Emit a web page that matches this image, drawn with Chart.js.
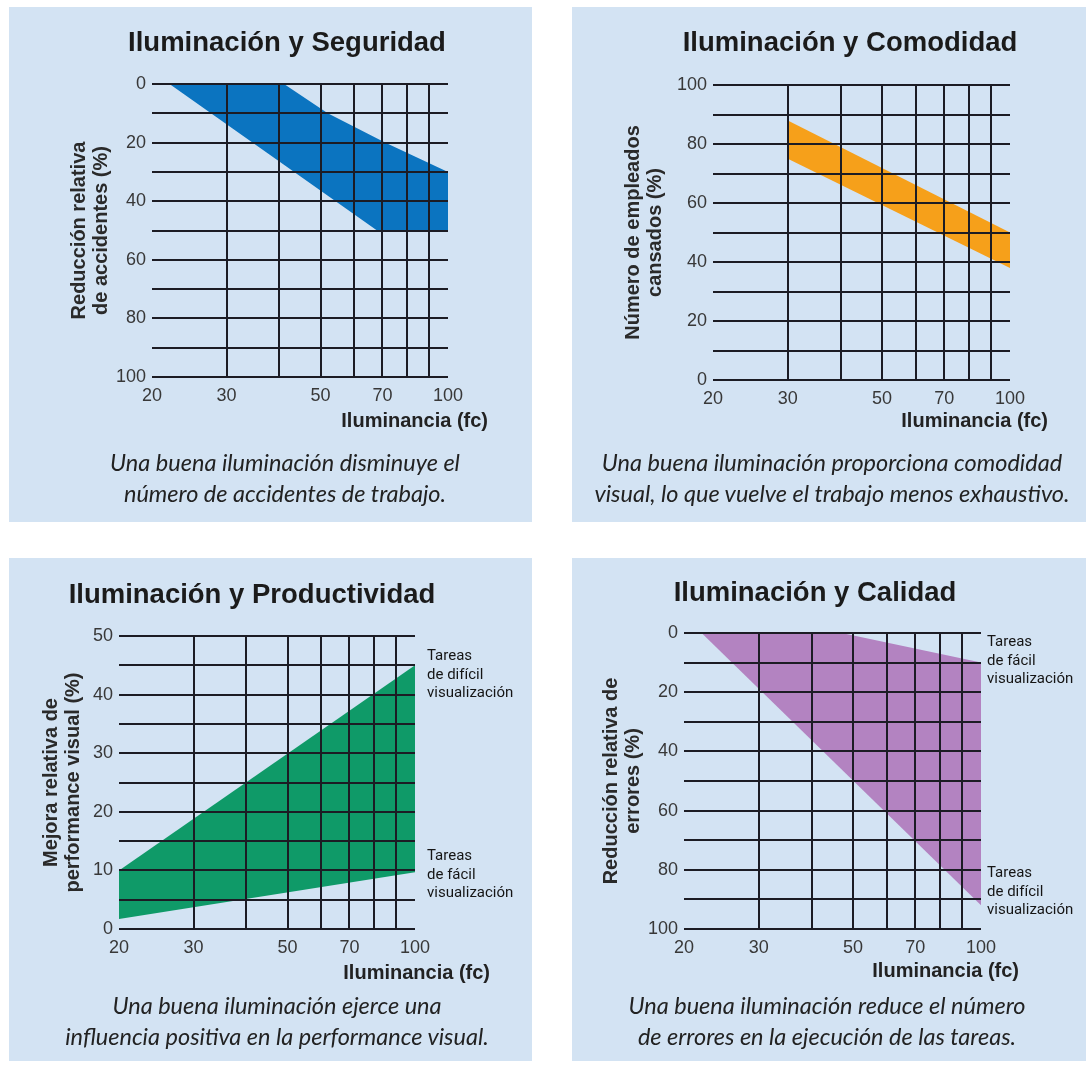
<!DOCTYPE html>
<html lang="es">
<head>
<meta charset="utf-8">
<title>Iluminación</title>
<script src="https://cdn.jsdelivr.net/npm/chart.js@4.4.1/dist/chart.umd.min.js"></script>
<style>
    body { margin: 0; background: #fff; width: 1089px; height: 1065px; position: relative; overflow: hidden; }
    .panel { position: absolute; background: #d3e3f3; }
    .panel canvas { position: absolute; left: 0; top: 0; }
    .ttl { position: absolute; width: 460px; text-align: center; font: bold 27.5px "Liberation Sans", Arial, sans-serif; color: #1b1b1b; line-height: 30px; white-space: nowrap; }
    .xt { position: absolute; font: bold 20px "Liberation Sans", Arial, sans-serif; color: #222; line-height: 22px; white-space: nowrap; }
    .cap { position: absolute; width: 520px; text-align: center; font: italic 23.5px Lato, "Open Sans", sans-serif; color: #222; line-height: 31px; white-space: nowrap; }
    .note { position: absolute; font: 15px Roboto, sans-serif; line-height: 18.5px; color: #151515; white-space: nowrap; }
</style>
</head>
<body>

<div class="panel" style="left:9px; top:7px; width:523px; height:515px;">
    <canvas id="chart-seguridad" width="523" height="515"></canvas>
    <div class="ttl" style="left:48px; top:20px;">Iluminación y Seguridad</div>
    <div class="xt" style="right:44px; top:402px;">Iluminancia (fc)</div>
    <div class="cap" style="left:16px; top:440px;">Una buena iluminación disminuye el<br>número de accidentes de trabajo.</div>
</div>

<div class="panel" style="left:572px; top:7px; width:514px; height:515px;">
    <canvas id="chart-comodidad" width="514" height="515"></canvas>
    <div class="ttl" style="left:48px; top:20px;">Iluminación y Comodidad</div>
    <div class="xt" style="right:38px; top:402px;">Iluminancia (fc)</div>
    <div class="cap" style="left:0px; top:440px;">Una buena iluminación proporciona comodidad<br>visual, lo que vuelve el trabajo menos exhaustivo.</div>
</div>

<div class="panel" style="left:9px; top:558px; width:523px; height:503px;">
    <canvas id="chart-productividad" width="523" height="503"></canvas>
    <div class="ttl" style="left:13px; top:21px;">Iluminación y Productividad</div>
    <div class="xt" style="right:42px; top:403px;">Iluminancia (fc)</div>
    <div class="cap" style="left:8px; top:432px;">Una buena iluminación ejerce una<br>influencia positiva en la performance visual.</div>
    <div class="note" style="left:418px; top:88px;">Tareas<br>de difícil<br>visualización</div>
    <div class="note" style="left:418px; top:288px;">Tareas<br>de fácil<br>visualización</div>
</div>

<div class="panel" style="left:572px; top:558px; width:514px; height:503px;">
    <canvas id="chart-calidad" width="514" height="503"></canvas>
    <div class="ttl" style="left:13px; top:19px;">Iluminación y Calidad</div>
    <div class="xt" style="right:67px; top:401px;">Iluminancia (fc)</div>
    <div class="cap" style="left:-5px; top:432px;">Una buena iluminación reduce el número<br>de errores en la ejecución de las tareas.</div>
    <div class="note" style="left:415px; top:74px;">Tareas<br>de fácil<br>visualización</div>
    <div class="note" style="left:415px; top:305px;">Tareas<br>de difícil<br>visualización</div>
</div>

<script>
// Shared axes: log illuminance (fc) and % scales
const xTicks = [20, 30, 40, 50, 60, 70, 80, 90, 100];
const xLabels = [20, 30, 50, 70, 100];
const yTicks100 = [0, 10, 20, 30, 40, 50, 60, 70, 80, 90, 100];
const yLabels100 = [0, 20, 40, 60, 80, 100];
const yTicks50 = [0, 5, 10, 15, 20, 25, 30, 35, 40, 45, 50];
const yLabels50 = [0, 10, 20, 30, 40, 50];

// Iluminación y Seguridad — edges of the blue band
const seguridadIzqX = [22, 68, 100];
const seguridadIzqY = [0, 50, 50];
const seguridadDerX = [22, 41, 52, 71, 100];
const seguridadDerY = [0, 0, 10, 20, 30];

// Iluminación y Comodidad — edges of the orange band
const comodidadX = [30, 100];
const comodidadSup = [88, 50];
const comodidadInf = [75, 38];

// Iluminación y Productividad — difícil (top) / fácil (bottom)
const productividadX = [20, 100];
const productividadDificil = [10, 45];
const productividadFacil = [1.7, 9.7];

// Iluminación y Calidad — fácil (top) / difícil (bottom)
const calidadFacilX = [22, 47, 100];
const calidadFacil = [0, 0, 10];
const calidadDificilX = [22, 100];
const calidadDificil = [0, 92];

const gridColor = '#1c1c24';
const tickFont = { family: '"Liberation Sans", Arial, sans-serif', size: 18 };
const titleFont = { family: '"Liberation Sans", Arial, sans-serif', size: 20, weight: 'bold', lineHeight: 1.08 };

function pts(xs, ys) {
    return xs.map((x, i) => ({ x: x, y: ys[i] }));
}

function makeChart(id, cfg) {
    const ctx = document.getElementById(id);
    const w = ctx.width, h = ctx.height;
    return new Chart(ctx, {
        type: 'line',
        data: {
            datasets: [
                { data: cfg.edgeA, borderWidth: 0, pointRadius: 0, fill: false },
                { data: cfg.edgeB, borderWidth: 0, pointRadius: 0, fill: '-1', backgroundColor: cfg.color }
            ]
        },
        options: {
            responsive: false,
            animation: false,
            events: [],
            layout: { padding: { left: 0, top: cfg.area.top, right: w - cfg.area.right, bottom: 0 } },
            plugins: { legend: { display: false }, tooltip: { enabled: false } },
            scales: {
                x: {
                    type: 'logarithmic',
                    min: 20,
                    max: 100,
                    afterBuildTicks: s => { s.ticks = xTicks.map(v => ({ value: v })); },
                    afterFit: s => { s.height = h - cfg.area.bottom; },
                    ticks: {
                        autoSkip: false, maxRotation: 0, padding: 8, color: '#383838', font: tickFont,
                        callback: v => xLabels.includes(v) ? String(v) : ''
                    },
                    grid: {
                        z: 1, lineWidth: 2, drawTicks: false,
                        color: c => (c.tick && (c.tick.value === 20 || c.tick.value === 100)) ? 'rgba(0,0,0,0)' : gridColor
                    },
                    border: { display: false }
                },
                y: {
                    type: 'linear',
                    min: cfg.yMin,
                    max: cfg.yMax,
                    reverse: cfg.reverse,
                    afterBuildTicks: s => { s.ticks = cfg.yTicks.map(v => ({ value: v })); },
                    afterFit: s => { s.width = cfg.area.left; },
                    ticks: {
                        autoSkip: false, padding: 6, color: '#383838', font: tickFont,
                        callback: v => cfg.yLabels.includes(v) ? String(v) : ''
                    },
                    grid: { z: 1, lineWidth: 2, drawTicks: false, color: gridColor },
                    border: { display: false },
                    title: {
                        display: true, text: cfg.yTitle, color: '#2a2a2a', font: titleFont,
                        padding: { top: cfg.yTitlePad, bottom: 0 }
                    }
                }
            }
        }
    });
}

makeChart('chart-seguridad', {
    area: { left: 143, top: 77, right: 439, bottom: 370 },
    yMin: 0, yMax: 100, reverse: true, yTicks: yTicks100, yLabels: yLabels100,
    yTitle: ['Reducción relativa', 'de accidentes (%)'], yTitlePad: 60,
    color: '#0b74c0',
    edgeA: pts(seguridadIzqX, seguridadIzqY),
    edgeB: pts(seguridadDerX, seguridadDerY)
});

makeChart('chart-comodidad', {
    area: { left: 141, top: 78, right: 438, bottom: 373 },
    yMin: 0, yMax: 100, reverse: false, yTicks: yTicks100, yLabels: yLabels100,
    yTitle: ['Número de empleados', 'cansados (%)'], yTitlePad: 51,
    color: '#f6a01a',
    edgeA: pts(comodidadX, comodidadInf),
    edgeB: pts(comodidadX, comodidadSup)
});

makeChart('chart-productividad', {
    area: { left: 110, top: 78, right: 406, bottom: 371 },
    yMin: 0, yMax: 50, reverse: false, yTicks: yTicks50, yLabels: yLabels50,
    yTitle: ['Mejora relativa de', 'performance visual (%)'], yTitlePad: 32,
    color: '#0f9a68',
    edgeA: pts(productividadX, productividadFacil),
    edgeB: pts(productividadX, productividadDificil)
});

makeChart('chart-calidad', {
    area: { left: 112, top: 75, right: 409, bottom: 371 },
    yMin: 0, yMax: 100, reverse: true, yTicks: yTicks100, yLabels: yLabels100,
    yTitle: ['Reducción relativa de', 'errores (%)'], yTitlePad: 29,
    color: '#b383c1',
    edgeA: pts(calidadDificilX, calidadDificil),
    edgeB: pts(calidadFacilX, calidadFacil)
});
</script>
</body>
</html>
